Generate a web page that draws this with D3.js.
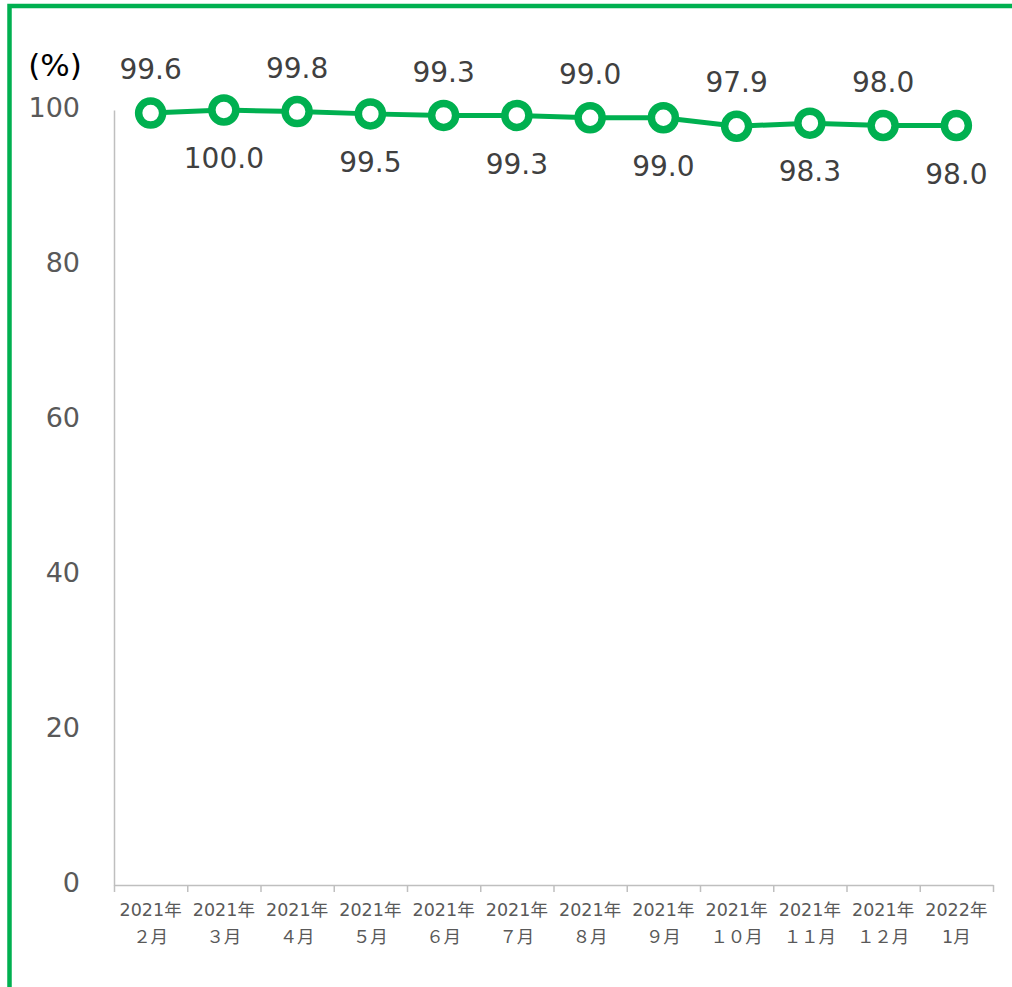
<!DOCTYPE html>
<html><head><meta charset="utf-8">
<script src="https://cdn.jsdelivr.net/npm/d3@7"></script>
<style>
html,body{margin:0;padding:0;background:#fff;}
svg{display:block;}
text{font-family:"DejaVu Sans","Noto Sans CJK JP",sans-serif;}
</style></head>
<body>
<svg id="chart" width="1012" height="987"></svg>
<script>
const years = ["2021年","2021年","2021年","2021年","2021年","2021年","2021年","2021年","2021年","2021年","2021年","2022年"];
const months = ["２月","３月","４月","５月","６月","７月","８月","９月","１０月","１１月","１２月","1月"];
const values = [99.6,100.0,99.8,99.5,99.3,99.3,99.0,99.0,97.9,98.3,98.0,98.0];
const labels = ["99.6","100.0","99.8","99.5","99.3","99.3","99.0","99.0","97.9","98.3","98.0","98.0"];
const yTicks = [0,20,40,60,80,100];
const unitLabel = "(%)";

(function(){
const green = "#00B050";
const svg = d3.select("#chart");

// frame
svg.append("rect").attr("x",9.5).attr("y",6).attr("width",1020).attr("height",1000)
  .attr("fill","none").attr("stroke",green).attr("stroke-width",4.5);

const pLeft = 114, pRight = 993, pBottom = 885, pTop = 110;
const x = d3.scaleBand().domain(d3.range(values.length)).range([pLeft,pRight]).padding(0);
const xb = d3.scaleLinear().domain([0,values.length]).range([pLeft,pRight]);
const y = d3.scaleLinear().domain([0,100]).range([pBottom,pTop]);

// y axis
const ya = svg.append("g").attr("transform",`translate(${pLeft},0)`)
  .call(d3.axisLeft(y).tickValues(yTicks).tickSize(0).tickPadding(34).tickSizeOuter(0));
ya.select(".domain").attr("stroke","#bfbfbf").attr("stroke-width",1.5);
ya.selectAll("text").attr("font-size",27).attr("fill","#595959").attr("dy","0.25em").attr("font-family",null);

// x axis
const xa = svg.append("g").attr("transform",`translate(0,${pBottom})`)
  .call(d3.axisBottom(xb).ticks(values.length).tickFormat("").tickSize(7).tickSizeOuter(0));
xa.select(".domain").attr("stroke","#bfbfbf").attr("stroke-width",1.5);
xa.selectAll(".tick line").attr("stroke","#bfbfbf").attr("stroke-width",1.5);

const cx = i => x(i)+x.bandwidth()/2;
const xl = svg.append("g").selectAll("text").data(values).join("text")
  .attr("text-anchor","middle").attr("font-size",17.5).attr("fill","#595959");
xl.append("tspan").attr("x",(d,i)=>cx(i)).attr("y",916).text((d,i)=>years[i]);
xl.append("tspan").attr("x",(d,i)=>cx(i)).attr("y",943).text((d,i)=>months[i]);

// unit label
svg.append("text").attr("x",55).attr("y",76).attr("text-anchor","middle")
  .attr("font-size",31).attr("fill","#000").text(unitLabel);

// line
svg.append("path").datum(values)
  .attr("d",d3.line().x((d,i)=>cx(i)).y(d=>y(d)))
  .attr("fill","none").attr("stroke",green).attr("stroke-width",5);

svg.append("g").selectAll("circle").data(values).join("circle")
  .attr("cx",(d,i)=>cx(i)).attr("cy",d=>y(d)).attr("r",12)
  .attr("fill","#fff").attr("stroke",green).attr("stroke-width",7.5);

// data labels
svg.append("g").selectAll("text").data(values).join("text")
  .attr("x",(d,i)=>cx(i)).attr("y",(d,i)=> i%2===0 ? y(d)-44 : y(d)+48)
  .attr("dy","0.36em").attr("text-anchor","middle").attr("font-size",28).attr("fill","#404040")
  .text((d,i)=>labels[i]);
})();
</script>
</body></html>
